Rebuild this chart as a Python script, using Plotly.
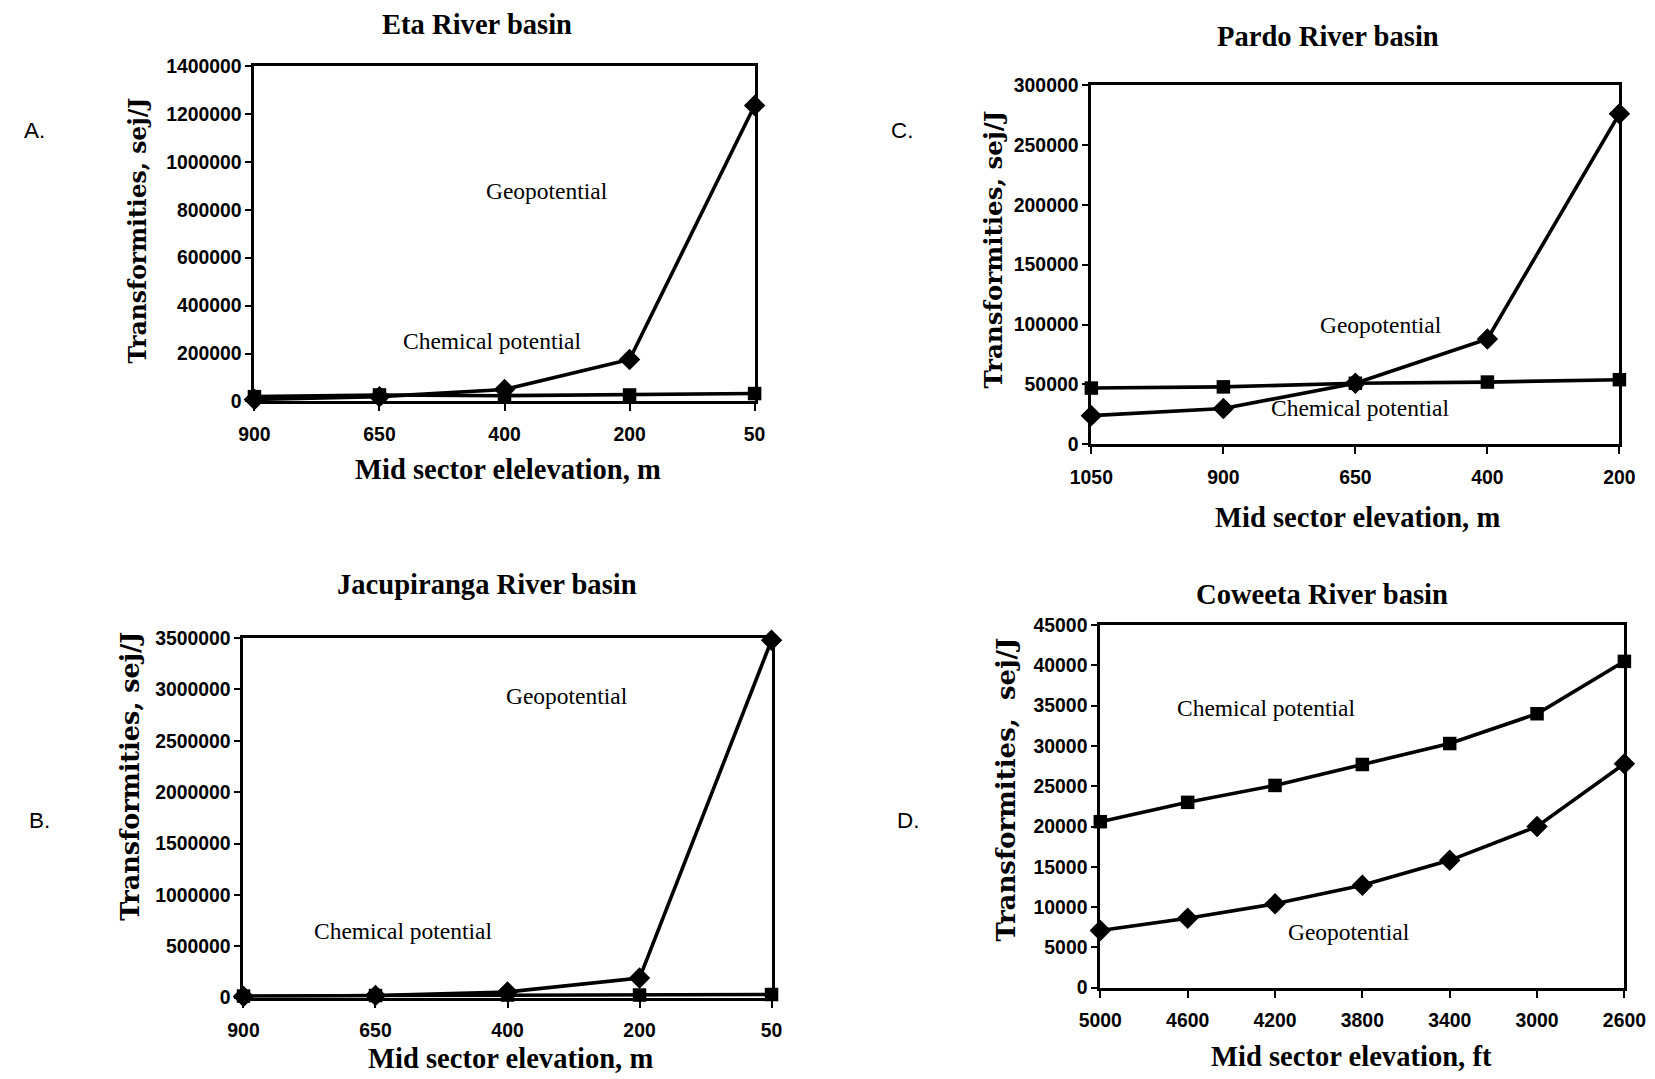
import plotly.graph_objects as go

# ---- Data: transformities (sej/J) by mid-sector elevation ----
eta_elev = ["900", "650", "400", "200", "50"]
eta_geo = [8000, 20000, 50000, 175000, 1235000]
eta_chem = [20000, 27000, 24000, 27000, 33000]

pardo_elev = ["1050", "900", "650", "400", "200"]
pardo_geo = [24000, 30000, 51000, 88000, 276000]
pardo_chem = [47000, 48000, 51000, 52000, 54000]

jacu_elev = ["900", "650", "400", "200", "50"]
jacu_geo = [10000, 20000, 55000, 190000, 3480000]
jacu_chem = [15000, 20000, 25000, 25000, 30000]

cow_elev = ["5000", "4600", "4200", "3800", "3400", "3000", "2600"]
cow_geo = [7100, 8600, 10400, 12700, 15800, 20000, 27800]
cow_chem = [20600, 23000, 25100, 27700, 30300, 34000, 40500]

W, H = 1655, 1079
SERIF = "Liberation Serif, Times New Roman, serif"
WIDE_SERIF = "DejaVu Serif, serif"
SANS = "Liberation Sans, Arial, sans-serif"

# page-pixel placement helpers (slightly spread out from the centre)
KX, KY, CX, CY = 0.977, 0.981, 18.7, 9.0
FS = 1.021


def X(x):
    return (x - CX) / KX


def Y(y):
    return (y - CY) / KY


def px(x):
    return min(max(X(x), 0), W) / W


def py(y):
    return 1 - min(max(Y(y), 0), H) / H


# panel boxes in pixels: (left, right, top, bottom)
panels = {
    "": dict(box=(252, 754, 64, 400), elev=eta_elev, geo=eta_geo, chem=eta_chem,
             ymax=1400000, dtick=200000),
    "2": dict(box=(1092, 1622, 83, 443), elev=pardo_elev, geo=pardo_geo, chem=pardo_chem,
              ymax=300000, dtick=50000),
    "3": dict(box=(241, 771, 637, 997), elev=jacu_elev, geo=jacu_geo, chem=jacu_chem,
              ymax=3500000, dtick=500000),
    "4": dict(box=(1101, 1627, 624, 987), elev=cow_elev, geo=cow_geo, chem=cow_chem,
              ymax=45000, dtick=5000),
}

fig = go.Figure()
layout = dict(width=W, height=H, margin=dict(l=0, r=0, t=0, b=0),
              paper_bgcolor="white", plot_bgcolor="white", showlegend=False)

tick_font = dict(family=SANS, size=19 * FS, color="black", weight="bold")

for suf, p in panels.items():
    l, r, t, b = p["box"]
    xa, ya = "x" + suf, "y" + suf
    fig.add_trace(go.Scatter(
        x=p["elev"], y=p["chem"], xaxis=xa, yaxis=ya, mode="lines+markers",
        line=dict(color="black", width=3.6),
        marker=dict(symbol="square", size=13.5, color="black"),
        cliponaxis=False, name="Chemical potential"))
    fig.add_trace(go.Scatter(
        x=p["elev"], y=p["geo"], xaxis=xa, yaxis=ya, mode="lines+markers",
        line=dict(color="black", width=3.6),
        marker=dict(symbol="diamond", size=16.5, color="black"),
        cliponaxis=False, name="Geopotential"))
    layout["xaxis" + suf] = dict(
        domain=[px(l), px(r)], anchor=ya, type="category",
        range=[0, len(p["elev"]) - 1],
        showline=True, linecolor="black", linewidth=3, mirror=True,
        ticks="outside", ticklen=7, tickwidth=2, tickcolor="black",
        showgrid=False, zeroline=False, ticklabelstandoff=6,
        tickfont=tick_font)
    layout["yaxis" + suf] = dict(
        domain=[py(b), py(t)], anchor=xa,
        range=[0, p["ymax"]], dtick=p["dtick"], tickformat="d",
        showline=True, linecolor="black", linewidth=3, mirror=True,
        ticks="outside", ticklen=6, tickwidth=2, tickcolor="black",
        showgrid=False, zeroline=False,
        tickfont=tick_font)

fig.update_layout(**layout)

ann = []


def text(x, y, s, font, size, bold=False, angle=0, xanchor="center"):
    ann.append(dict(
        x=px(x), y=py(y), xref="paper", yref="paper", text=s, showarrow=False,
        xanchor=xanchor, yanchor="middle", textangle=angle,
        font=dict(family=font, size=size * FS, color="black",
                  weight="bold" if bold else "normal")))


# panel titles
text(475, 23, "Eta River basin", SERIF, 28, True)
text(1330, 35, "Pardo River basin", SERIF, 28, True)
text(485, 583, "Jacupiranga River basin", SERIF, 28, True)
text(1323, 593, "Coweeta River basin", SERIF, 28, True)

# panel letters
text(19, 129, "A.", SANS, 22, xanchor="left")
text(902, 129, "C.", SANS, 22)
text(24, 820, "B.", SANS, 22, xanchor="left")
text(908, 820, "D.", SANS, 22)

# x-axis titles
text(506, 468, "Mid sector elelevation, m", SERIF, 28, True)
text(1359, 516, "Mid sector elevation, m", SERIF, 28, True)
text(509, 1058, "Mid sector elevation, m", SERIF, 28, True)
text(1353, 1056, "Mid sector elevation, ft", SERIF, 28, True)

# y-axis titles
text(135, 229, "Transformities, sej/J", WIDE_SERIF, 23, True, -90)
text(994, 248, "Transformities, sej/J", WIDE_SERIF, 24, True, -90)
text(127, 775, "Transformities, sej/J", WIDE_SERIF, 25, True, -90)
text(1006, 789, "Transformities,  sej/J", WIDE_SERIF, 25.5, True, -90)

# series labels
text(546, 189, "Geopotential", SERIF, 23)
text(490, 339, "Chemical potential", SERIF, 23)
text(1383, 323, "Geopotential", SERIF, 23)
text(1362, 407, "Chemical potential", SERIF, 23)
text(566, 695, "Geopotential", SERIF, 23)
text(401, 930, "Chemical potential", SERIF, 23)
text(1267, 707, "Chemical potential", SERIF, 23)
text(1351, 931, "Geopotential", SERIF, 23)

fig.update_layout(annotations=ann)
fig.write_html("out.html")
